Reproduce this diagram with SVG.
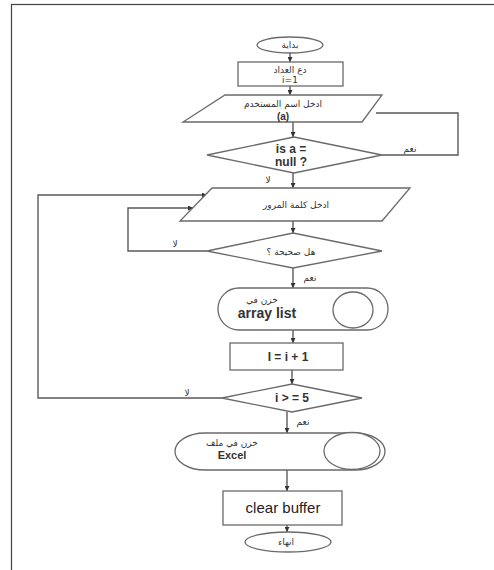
<svg xmlns="http://www.w3.org/2000/svg" width="494" height="570" viewBox="0 0 494 570">
<defs>
<style>
.sh{fill:#fff;stroke:#6a6a6a;stroke-width:1.3}
.ln{fill:none;stroke:#5a5a5a;stroke-width:1.4}
.ar{font-family:"DejaVu Sans",sans-serif;font-size:9px;fill:#333;text-anchor:middle}
.lt{font-family:"Liberation Sans",Arial,sans-serif;font-weight:bold;fill:#333;text-anchor:middle}
.ltn{font-family:"Liberation Sans",Arial,sans-serif;font-weight:normal;fill:#222;text-anchor:middle}
</style>
<marker id="ah" viewBox="0 0 6 6" refX="6" refY="3" markerWidth="5" markerHeight="5" orient="auto" markerUnits="userSpaceOnUse">
<path d="M0,0 L6,3 L0,6 Z" fill="#333"/>
</marker>
</defs>
<rect x="0" y="0" width="494" height="570" fill="#fff"/>
<rect x="11.5" y="4.5" width="490" height="600" fill="none" stroke="#444" stroke-width="1.2"/>

<g id="connectors">
<line class="ln" x1="290" y1="53" x2="290" y2="62" marker-end="url(#ah)"/>
<line class="ln" x1="290" y1="86" x2="290" y2="95" marker-end="url(#ah)"/>
<line class="ln" x1="293" y1="122" x2="293" y2="137" marker-end="url(#ah)"/>
<polyline class="ln" points="382,155 458,155 458,113 376,113"/>
<line class="ln" x1="293" y1="173" x2="293" y2="188" marker-end="url(#ah)"/>
<line class="ln" x1="293" y1="221" x2="293" y2="233" marker-end="url(#ah)"/>
<polyline class="ln" points="207,251 128,251 128,208 193,208" marker-end="url(#ah)"/>
<line class="ln" x1="293" y1="268" x2="293" y2="288" marker-end="url(#ah)"/>
<line class="ln" x1="293" y1="330" x2="293" y2="343" marker-end="url(#ah)"/>
<line class="ln" x1="292" y1="370" x2="292" y2="384" marker-end="url(#ah)"/>
<polyline class="ln" points="222,398 38,398 38,195 207,195" marker-end="url(#ah)"/>
<line class="ln" x1="287" y1="412" x2="287" y2="433" marker-end="url(#ah)"/>
<line class="ln" x1="287" y1="470" x2="287" y2="491" marker-end="url(#ah)"/>
<line class="ln" x1="287" y1="525" x2="287" y2="532" marker-end="url(#ah)"/>
<text class="ar" x="410" y="152">نعم</text>
<text class="ar" x="268" y="183">لا</text>
<text class="ar" x="175" y="247">لا</text>
<text class="ar" x="310" y="281" font-size="7">نعم</text>
<text class="ar" x="187" y="396">لا</text>
<text class="ar" x="303" y="425" font-size="7">نعم</text>
</g>

<g id="start">
<ellipse class="sh" cx="290" cy="45" rx="33" ry="8"/>
<text class="ar" x="290" y="48">بداية</text>
</g>

<g id="init">
<rect class="sh" x="238" y="62" width="105" height="24"/>
<text class="ar" x="290" y="73" font-size="7.5">دع العداد</text>
<text class="ar" x="290" y="83" font-size="7.5">i=1</text>
</g>

<g id="input-user">
<polygon class="sh" points="225,95 382,95 362,122 183,122"/>
<text class="ar" x="283" y="107" font-size="9">ادخل اسم المستخدم</text>
<text class="lt" x="283" y="120" font-size="10">(a)</text>
</g>

<g id="check-null">
<polygon class="sh" points="207,155 294,137 382,155 294,173"/>
<text class="lt" x="291" y="153" font-size="12">is a =</text>
<text class="lt" x="291" y="166" font-size="12">null ?</text>
</g>

<g id="input-pass">
<polygon class="sh" points="212,188 410,188 382,221 180,221"/>
<text class="ar" x="296" y="208">ادخل كلمة المرور</text>
</g>

<g id="check-pass">
<polygon class="sh" points="207,251 293,233 382,251 293,268"/>
<text class="ar" x="291" y="255">هل صحيحة ؟</text>
</g>

<g id="store-array">
<rect class="sh" x="218" y="288" width="170" height="42" rx="21" ry="21"/>
<ellipse class="sh" cx="353" cy="310" rx="20" ry="18"/>
<text class="ar" x="262" y="303" font-size="8">خزن في</text>
<text class="lt" x="267" y="318" font-size="14">array list</text>
</g>

<g id="increment">
<rect class="sh" x="230" y="343" width="113" height="27"/>
<text class="lt" x="288" y="361" font-size="12">I = i + 1</text>
</g>

<g id="check-count">
<polygon class="sh" points="222,398 292,384 362,398 292,412"/>
<text class="lt" x="292" y="402" font-size="12">i &gt; = 5</text>
</g>

<g id="store-excel">
<rect class="sh" x="175" y="433" width="210" height="37" rx="30" ry="18.5"/>
<ellipse class="sh" cx="352" cy="451" rx="28" ry="18.5"/>
<text class="ar" x="232" y="446" font-size="8.5">خزن في ملف</text>
<text class="lt" x="232" y="459" font-size="11">Excel</text>
</g>

<g id="clear">
<rect class="sh" x="223" y="491" width="119" height="34"/>
<text class="ltn" x="283" y="513" font-size="15">clear buffer</text>
</g>

<g id="end">
<ellipse class="sh" cx="288" cy="542" rx="43" ry="10"/>
<text class="ar" x="286" y="545">انهاء</text>
</g>
</svg>
